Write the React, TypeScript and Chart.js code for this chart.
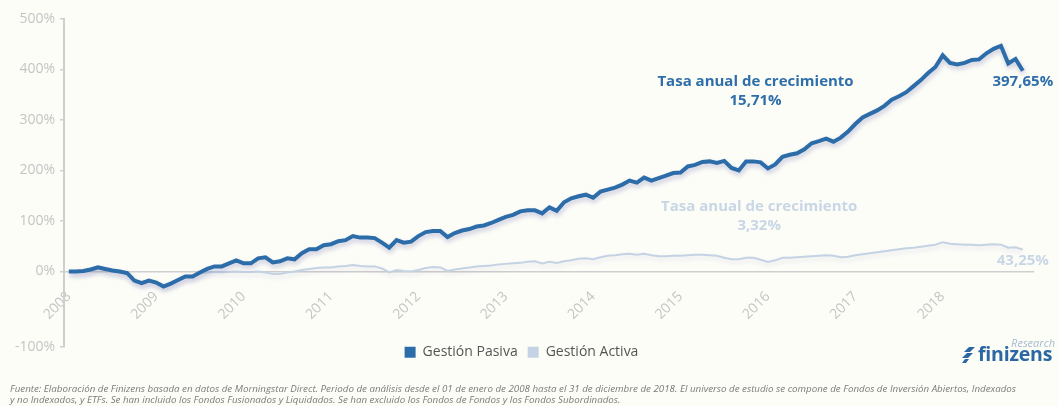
import React, { useEffect, useRef } from 'react';
import { Chart, registerables } from 'chart.js';

Chart.register(...registerables);

// ---- data ----
const YEARS = ['2008', '2009', '2010', '2011', '2012', '2013', '2014', '2015', '2016', '2017', '2018'];
const SERIES_NAMES = ['Gestión Pasiva', 'Gestión Activa'];
const Y_TICK_VALUES = [-150, 0, 100, 200, 300, 400, 500];
const Y_TICK_LABELS = ['-100%', '0%', '100%', '200%', '300%', '400%', '500%'];

// monthly cumulative return (%), Jan 2008 – Dec 2018
const GESTION_PASIVA = [
  0, 0, 1, 4, 8, 5, 2, 0, -3, -18, -23, -18,
  -22, -30, -24, -17, -10, -10, -2, 5, 10, 10, 16, 22,
  16, 16, 26, 28, 18, 20, 26, 24, 36, 44, 44, 52,
  54, 60, 62, 70, 67, 67, 66, 57, 47, 62, 57, 59,
  70, 78, 80, 80, 68, 76, 81, 84, 89, 91, 96, 102,
  108, 112, 119, 121, 121, 115, 127, 120, 137, 145, 149, 152,
  146, 158, 162, 166, 172, 180, 176, 186, 180, 185, 190, 195,
  196, 208, 211, 217, 218, 215, 219, 205, 200, 218, 218, 216,
  204, 212, 227, 231, 234, 242, 254, 258, 263, 257, 265, 277,
  292, 305, 312, 319, 328, 340, 347, 355, 367, 379, 393, 405,
  428, 413, 410, 413, 419, 420, 432, 441, 447, 412, 421, 397.65,
];

const GESTION_ACTIVA = [
  0, -1, -1, 2, 5, 3, 0, -2, -5, -17, -21, -18,
  -21, -27, -23, -17, -11, -8, -4, -2, -1, -1, -1, 0,
  -1, -1, 0, -2, -5, -5, -2, 0, 3, 5, 7, 8,
  8, 10, 11, 13, 11, 10, 10, 6, -2, 3, 1, 0,
  3, 7, 9, 8, 1, 4, 6, 8, 10, 11, 12, 14,
  15, 16, 17, 19, 20, 16, 19, 17, 20, 22, 25, 26,
  24, 28, 31, 32, 34, 35, 33, 35, 32, 30, 30, 31,
  31, 32, 33, 33, 32, 31, 27, 24, 24, 27, 27, 23,
  19, 22, 27, 27, 28, 29, 30, 31, 32, 31, 28, 29,
  32, 34, 36, 38, 40, 42, 44, 46, 47, 49, 51, 53,
  58, 55, 54, 53, 53, 52, 53, 54, 53, 47, 48, 43.25,
];

const END_LABELS = ['397,65%', '43,25%'];
const GROWTH_NOTES = [
  { lines: ['Tasa anual de crecimiento', '15,71%'], month: 94.3, value: 376 },
  { lines: ['Tasa anual de crecimiento', '3,32%'], month: 94.8, value: 128 },
];

const FOOTNOTE = [
  'Fuente: Elaboración de Finizens basada en datos de Morningstar Direct. Periodo de análisis desde el 01 de enero de 2008 hasta el 31 de diciembre de 2018. El universo de estudio se compone de Fondos de Inversión Abiertos, Indexados',
  'y no Indexados, y ETFs. Se han incluido los Fondos Fusionados y Liquidados. Se han excluido los Fondos de Fondos y los Fondos Subordinados.',
];

// ---- styles ----
const COLORS = ['#2c6ca8', '#c4d3e3'];
const NOTE_COLORS = ['#2e6eaa', '#c8d6e6'];
const BG = '#fdfdf8';
const AXIS_GREY = '#cfcfcf';
const TICK_GREY = '#c4c4c4';
const FONT = '"Open Sans", "Noto Sans", sans-serif';

const shadowPlugin = {
  id: 'lineShadow',
  beforeDatasetDraw(chart: any, args: any) {
    const ctx = chart.ctx;
    ctx.save();
    ctx.shadowColor = args.index === 0 ? 'rgba(100,100,170,0.35)' : 'rgba(100,100,170,0.18)';
    ctx.shadowBlur = 5;
    ctx.shadowOffsetX = 1;
    ctx.shadowOffsetY = 3;
  },
  afterDatasetDraw(chart: any) {
    chart.ctx.restore();
  },
};

const notesPlugin = {
  id: 'notes',
  afterLayout(chart: any) {
    const lg = chart.legend;
    if (lg) {
      const pad = lg.options.labels.padding;
      const target = chart.chartArea.bottom + 5 - pad - 7;
      const shift = lg.top - target;
      lg.top -= shift;
      lg.bottom -= shift;
      if (lg.legendHitBoxes) lg.legendHitBoxes.forEach((h: any) => (h.top -= shift));
    }
  },
  afterDatasetsDraw(chart: any) {
    const { ctx, scales } = chart;
    const x = scales.x;
    const y = scales.y;
    ctx.save();
    ctx.font = `bold 15px ${FONT}`;
    ctx.textAlign = 'center';
    ctx.textBaseline = 'middle';
    GROWTH_NOTES.forEach((n, i) => {
      ctx.fillStyle = NOTE_COLORS[i];
      n.lines.forEach((t, j) => {
        ctx.fillText(t, x.getPixelForValue(n.month), y.getPixelForValue(n.value) + j * 19);
      });
    });
    chart.data.datasets.forEach((_: any, i: number) => {
      const meta = chart.getDatasetMeta(i);
      const last = meta.data[meta.data.length - 1];
      ctx.fillStyle = NOTE_COLORS[i];
      ctx.fillText(END_LABELS[i], last.x, last.y + 11);
    });
    ctx.restore();
  },
};

export default function App() {
  const ref = useRef<HTMLCanvasElement | null>(null);

  useEffect(() => {
    if (!ref.current) return;
    const series = [GESTION_PASIVA, GESTION_ACTIVA];
    const chart = new Chart(ref.current, {
      type: 'line',
      data: {
        datasets: series.map((s, i) => ({
          label: SERIES_NAMES[i],
          data: s.map((v, k) => ({ x: k, y: v })),
          borderColor: COLORS[i],
          backgroundColor: COLORS[i],
          borderWidth: i === 0 ? 4 : 2,
          pointRadius: 0,
          tension: 0,
          fill: false,
        })),
      },
      options: {
        responsive: false,
        animation: false,
        layout: { padding: { left: 10, right: 25, top: 19, bottom: 0 } },
        scales: {
          x: {
            type: 'linear',
            min: -0.65,
            max: 132.4,
            position: { y: 0 } as any,
            afterBuildTicks: (scale: any) => {
              scale.ticks = YEARS.map((_, i) => ({ value: i * 12 }));
            },
            ticks: {
              autoSkip: false,
              minRotation: 45,
              maxRotation: 45,
              color: TICK_GREY,
              font: { family: FONT, size: 14 },
              padding: 9,
              callback: (v: any) => YEARS[Math.round(Number(v) / 12)] ?? '',
            },
            grid: { display: false },
            border: { display: true, color: AXIS_GREY, width: 1.5 },
          },
          y: {
            type: 'linear',
            min: -150,
            max: 500,
            afterBuildTicks: (scale: any) => {
              scale.ticks = Y_TICK_VALUES.map((v) => ({ value: v }));
            },
            ticks: {
              color: TICK_GREY,
              font: { family: FONT, size: 14 },
              padding: 5,
              callback: (v: any) => Y_TICK_LABELS[Y_TICK_VALUES.indexOf(Number(v))] ?? '',
            },
            grid: { drawOnChartArea: false, tickLength: 4, color: AXIS_GREY, lineWidth: 1.5 },
            border: { display: true, color: AXIS_GREY, width: 2 },
          },
        },
        plugins: {
          legend: {
            position: 'bottom',
            labels: {
              boxWidth: 11,
              boxHeight: 11,
              padding: 10,
              color: '#555555',
              font: { family: FONT, size: 14 },
              generateLabels: (c: any) =>
                (Chart.defaults.plugins.legend.labels.generateLabels as any)(c).map((l: any) => ({ ...l, lineWidth: 0 })),
            },
          },
          title: {
            display: true,
            position: 'bottom',
            align: 'start',
            text: FOOTNOTE,
            color: '#7a7a7a',
            font: { family: FONT, size: 9.75, style: 'italic', weight: 'normal' as any, lineHeight: 1.17 },
            padding: { top: 2, bottom: 0 },
          },
          tooltip: { enabled: false },
        },
      },
      plugins: [shadowPlugin, notesPlugin],
    });
    return () => chart.destroy();
  }, []);

  return (
    <div style={{ position: 'absolute', left: 0, top: 0, width: 1058, height: 406, background: BG, overflow: 'hidden' }}>
      <canvas ref={ref} width={1058} height={406} style={{ display: 'block' }} />
      <div style={{ position: 'absolute', left: 960, top: 335, width: 98, height: 32, fontFamily: FONT }}>
        <div style={{ position: 'absolute', right: 3, top: 2, fontSize: 11, fontStyle: 'italic', color: '#a6b9cc', lineHeight: '12px' }}>
          Research
        </div>
        <svg style={{ position: 'absolute', left: 2, top: 12 }} width={15} height={17} viewBox="0 0 15 17">
          <polygon points="7,0 13,0 8,5 2,5" fill="#2a67a3" />
          <polygon points="5,6 11,6 6,11 0,11" fill="#2a67a3" />
          <polygon points="3,12 7,12 4,16 0,16" fill="#2a67a3" />
        </svg>
        <div style={{ position: 'absolute', left: 18, top: 9, fontSize: 19.5, fontWeight: 700, color: '#2a67a3', lineHeight: '20px', letterSpacing: '-0.2px' }}>
          finizens
        </div>
      </div>
    </div>
  );
}
